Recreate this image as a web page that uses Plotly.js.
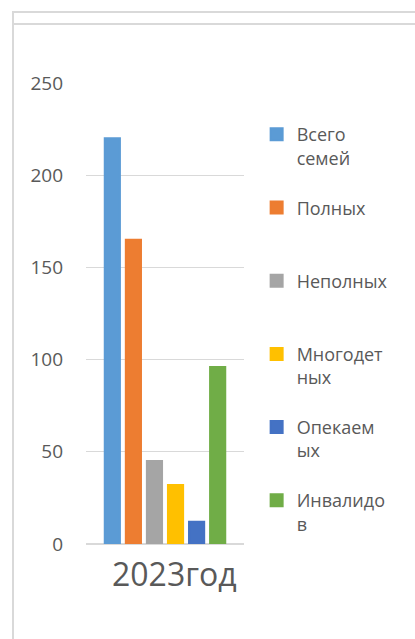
<!DOCTYPE html>
<html>
<head>
<meta charset="utf-8">
<script src="https://cdn.plot.ly/plotly-3.0.1.min.js"></script>
<style>
  html, body { margin: 0; padding: 0; background: #ffffff; width: 415px; height: 639px; overflow: hidden; }
  #frameLeft { position: absolute; left: 12px; top: 11px; width: 2px; height: 640px; background: #d9d9d9; }
  #frameTop { position: absolute; left: 12px; top: 11px; width: 410px; height: 2px; background: #d9d9d9; }
  #frameTop2 { position: absolute; left: 12px; top: 23px; width: 410px; height: 1.5px; background: #d9d9d9; }
  #chart { position: absolute; left: 0; top: 0; width: 415px; height: 639px; }
</style>
</head>
<body>
<div id="frameLeft"></div>
<div id="frameTop"></div>
<div id="frameTop2"></div>
<div id="chart"></div>
<script>
// Data
var categories = ["2023год"];
var seriesNames = ["Всего<br>семей", "Полных", "Неполных", "Многодет<br>ных", "Опекаем<br>ых", "Инвалидо<br>в"];
var seriesValues = [220, 165, 45, 32, 12, 96];
var seriesColors = ["#5B9BD5", "#ED7D31", "#A5A5A5", "#FFC000", "#4472C4", "#70AD47"];
var yTicks = [0, 50, 100, 150, 200, 250];

var NB = "\u00a0";
function legendName(n) {
  // pad to three lines so the symbol lines up with the first line of text
  var lines = n.split("<br>");
  if (lines.length === 1) return NB + "<br>" + n + "<br>" + NB;
  return NB + "<br>" + n;
}

var traces = seriesNames.map(function (name, i) {
  return {
    type: "bar",
    name: legendName(name),
    x: categories,
    y: [seriesValues[i]],
    marker: { color: seriesColors[i], line: { color: seriesColors[i], width: 2 } },
    hoverinfo: "skip"
  };
});

var layout = {
  width: 415,
  height: 639,
  margin: { l: 86, r: 171, t: 83, b: 95, pad: 0 },
  paper_bgcolor: "rgba(0,0,0,0)",
  plot_bgcolor: "rgba(0,0,0,0)",
  barmode: "group",
  bargap: 0.2,
  bargroupgap: 0.28,
  font: { family: "Open Sans, Noto Sans, sans-serif", color: "#595959" },
  showlegend: true,
  legend: {
    x: 1.08, xanchor: "left",
    y: 0.979, yanchor: "top",
    font: { size: 18, color: "#595959", family: "Open Sans, sans-serif" },
    tracegroupgap: 0,
    bgcolor: "rgba(0,0,0,0)",
    traceorder: "normal"
  },
  xaxis: {
    type: "category",
    showgrid: false,
    showline: false,
    zeroline: false,
    ticks: "",
    showticklabels: false
  },
  yaxis: {
    range: [0, 250],
    tickvals: yTicks,
    ticktext: yTicks.map(String),
    showgrid: true,
    gridcolor: "#d9d9d9",
    gridwidth: 1.3,
    zeroline: true,
    zerolinecolor: "#d9d9d9",
    zerolinewidth: 1.3,
    showline: false,
    ticks: "",
    ticklabelstandoff: 22,
    tickfont: { size: 19, color: "#595959", family: "Open Sans, sans-serif" }
  },
  annotations: [{
    x: categories[0], xref: "x",
    y: 0, yref: "paper", yanchor: "top",
    yshift: -6, xshift: 9,
    text: categories[0],
    showarrow: false,
    font: { size: 32, color: "#595959", family: "Open Sans, sans-serif" }
  }]
};

Plotly.newPlot("chart", traces, layout, { displayModeBar: false, staticPlot: true });
</script>
</body>
</html>
